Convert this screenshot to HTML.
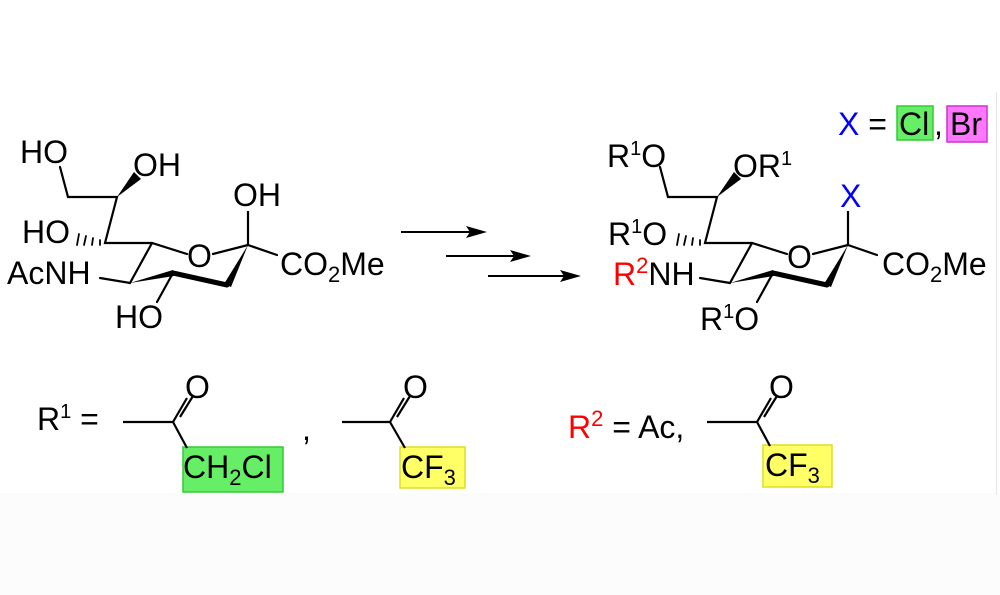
<!DOCTYPE html>
<html><head><meta charset="utf-8"><style>
html,body{margin:0;padding:0;background:#fff}
svg{display:block}
text{font-family:"Liberation Sans",Arial,sans-serif;font-size:32px}
.b{fill:#0000ff}.r{fill:#ff0000}
</style></head><body>
<svg width="1000" height="595" viewBox="0 0 1000 595" xmlns="http://www.w3.org/2000/svg">
<rect x="0" y="0" width="1000" height="595" fill="#fff"/>
<rect x="0" y="493" width="1000" height="102" fill="#fdfcfc"/>
<line x1="996.5" y1="92" x2="996.5" y2="495" stroke="#e6e6e6" stroke-width="1"/>

<g id="sk" stroke="#000" stroke-width="2.2" fill="none" stroke-linecap="round">
  <polyline points="60,167 68,197 117,197 105,243 152,243 187,254"/>
  <line x1="213" y1="254" x2="248" y2="245"/>
  <line x1="248" y1="245" x2="277" y2="255"/>
  <line x1="152" y1="243" x2="130" y2="283"/>
  <line x1="100" y1="278" x2="130" y2="283"/>
  <line x1="173" y1="273" x2="157" y2="302"/>
  <line x1="227" y1="285" x2="173" y2="273" stroke-width="5"/>
  <polygon points="130,283 173,270 174,276" fill="#000" stroke="none"/>
  <polygon points="248,245 224,284 231,287" fill="#000" stroke="none"/>
  <polygon points="117,197 134,172 141,179" fill="#000" stroke="none"/>
  <g stroke-width="1.8">
    <line x1="100" y1="240" x2="100" y2="245"/>
    <line x1="93" y1="238" x2="92" y2="245"/>
    <line x1="86" y1="236" x2="84" y2="245"/>
    <line x1="79" y1="234" x2="77" y2="245"/>
  </g>
</g>
<line x1="248" y1="245" x2="248" y2="211" stroke="#000" stroke-width="2.2"/>
<use href="#sk" transform="translate(600,0)"/>
<line x1="848" y1="245" x2="848" y2="211" stroke="#000" stroke-width="2.2"/>

<text x="20" y="163">HO</text>
<text x="133" y="176">OH</text>
<text x="22" y="243">HO</text>
<text x="187" y="267">O</text>
<text x="233" y="206">OH</text>
<text x="280" y="275">CO<tspan font-size="22" dy="7">2</tspan><tspan dy="-7">Me</tspan></text>
<text x="7" y="284">AcNH</text>
<text x="115" y="328">HO</text>

<g stroke="#000" stroke-width="2">
  <line x1="401" y1="232" x2="475" y2="232"/>
  <line x1="446" y1="256" x2="520" y2="256"/>
  <line x1="488" y1="276" x2="570" y2="276"/>
</g>
<g fill="#000">
  <polygon points="487,232 466,226 470,232 466,238"/>
  <polygon points="531,256 510,250 514,256 510,262"/>
  <polygon points="581,276 560,270 564,276 560,282"/>
</g>

<rect x="897" y="106" width="36" height="34" fill="#66ee66" stroke="#33cc33" stroke-width="1.5"/>
<rect x="947" y="106" width="40" height="36" fill="#ff77ff" stroke="#cc33cc" stroke-width="1.5"/>
<text x="838" y="135"><tspan class="b">X</tspan> = </text>
<text x="899" y="135">Cl</text>
<text x="934" y="135">,</text>
<text x="950" y="135">Br</text>

<text x="607" y="167">R<tspan font-size="20" dy="-12">1</tspan><tspan dy="12">O</tspan></text>
<text x="733" y="177">OR<tspan font-size="20" dy="-12">1</tspan></text>
<text x="608" y="245">R<tspan font-size="20" dy="-12">1</tspan><tspan dy="12">O</tspan></text>
<text x="787" y="268">O</text>
<text x="840" y="207" class="b">X</text>
<text x="882" y="275">CO<tspan font-size="22" dy="7">2</tspan><tspan dy="-7">Me</tspan></text>
<text x="613" y="285"><tspan class="r">R</tspan><tspan class="r" font-size="22" dy="-12">2</tspan><tspan dy="12">NH</tspan></text>
<text x="700" y="330">R<tspan font-size="20" dy="-12">1</tspan><tspan dy="12">O</tspan></text>

<text x="37" y="430">R<tspan font-size="20" dy="-12">1</tspan><tspan dy="12"> =</tspan></text>
<rect x="183" y="447" width="100" height="45" fill="#66ee66" stroke="#33cc33" stroke-width="1.5"/>
<rect x="400" y="447" width="65" height="41" fill="#ffff66" stroke="#dddd22" stroke-width="1.5"/>
<rect x="763" y="445" width="69" height="42" fill="#ffff66" stroke="#dddd22" stroke-width="1.5"/>
<g stroke="#000" stroke-width="2.2" fill="none">
  <line x1="123" y1="422" x2="173" y2="422"/>
  <line x1="173" y1="422" x2="187" y2="448"/>
  <line x1="173" y1="422" x2="187" y2="398"/>
  <line x1="180" y1="417" x2="193" y2="396"/>
  <line x1="342" y1="422" x2="390" y2="422"/>
  <line x1="390" y1="422" x2="405" y2="448"/>
  <line x1="390" y1="422" x2="404" y2="398"/>
  <line x1="397" y1="417" x2="410" y2="396"/>
  <line x1="707" y1="422" x2="757" y2="422"/>
  <line x1="757" y1="422" x2="770" y2="446"/>
  <line x1="757" y1="422" x2="771" y2="398"/>
  <line x1="764" y1="417" x2="777" y2="396"/>
</g>
<text x="185" y="398">O</text>
<text x="403" y="398">O</text>
<text x="769" y="398">O</text>
<text x="183" y="478">CH<tspan font-size="22" dy="7">2</tspan><tspan dy="-7">Cl</tspan></text>
<text x="302" y="440">,</text>
<text x="401" y="478">CF<tspan font-size="22" dy="7">3</tspan></text>
<text x="765" y="476">CF<tspan font-size="22" dy="7">3</tspan></text>
<text x="568" y="438"><tspan class="r">R</tspan><tspan class="r" font-size="22" dy="-12">2</tspan><tspan dy="12"> = Ac,</tspan></text>
</svg>
</body></html>
